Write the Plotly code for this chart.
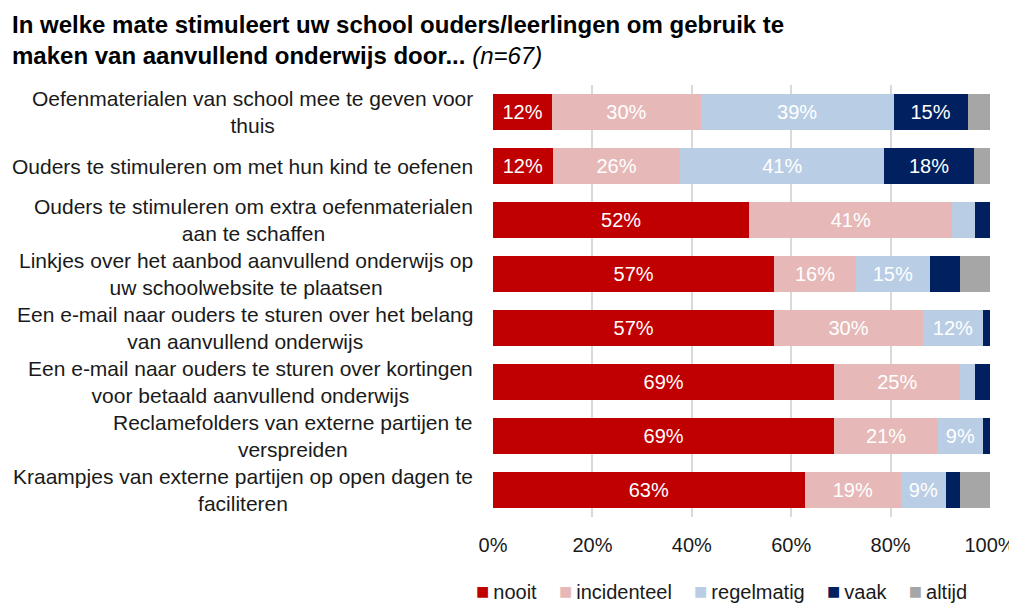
import plotly.graph_objects as go

categories = [
    "Oefenmaterialen van school mee te geven voor<br>thuis",
    "Ouders te stimuleren om met hun kind te oefenen",
    "Ouders te stimuleren om extra oefenmaterialen<br>aan te schaffen",
    "Linkjes over het aanbod aanvullend onderwijs op<br>uw schoolwebsite te plaatsen",
    "Een e-mail naar ouders te sturen over het belang<br>van aanvullend onderwijs",
    "Een e-mail naar ouders te sturen over kortingen<br>voor betaald aanvullend onderwijs",
    "Reclamefolders van externe partijen te<br>verspreiden",
    "Kraampjes van externe partijen op open dagen te<br>faciliteren",
]
series_names = ["nooit", "incidenteel", "regelmatig", "vaak", "altijd"]
nooit = [11.9, 12.0, 51.6, 56.6, 56.6, 68.7, 68.7, 62.7]
incidenteel = [29.9, 25.7, 40.8, 16.4, 29.9, 25.3, 20.8, 19.4]
regelmatig = [38.8, 41.0, 4.6, 14.9, 12.1, 3.0, 9.1, 9.0]
vaak = [14.9, 18.1, 3.0, 6.0, 1.4, 3.0, 1.4, 2.9]
altijd = [4.5, 3.2, 0.0, 6.1, 0.0, 0.0, 0.0, 6.0]
colors = ["#C00000", "#E6B9B8", "#B9CDE5", "#002060", "#A6A6A6"]
tick_vals = [0, 20, 40, 60, 80, 100]
tick_text = ["0%", "20%", "40%", "60%", "80%", "100%"]

FONT = "Liberation Sans, Arial, sans-serif"
OFF = 8  # page body margin
W, H = 1009, 600
ML, MR, MT, MB = 493 - OFF, 27, 85 - OFF, 91
PW, PH = W - ML - MR, H - MT - MB

fig = go.Figure()
for name, vals, col in zip(series_names, [nooit, incidenteel, regelmatig, vaak, altijd], colors):
    fig.add_trace(go.Bar(
        name=name, y=list(range(len(categories))), x=vals, orientation="h",
        marker=dict(color=col, line=dict(width=0)),
        text=[f"{round(v)}%" if v >= 8 else "" for v in vals],
        textposition="inside", insidetextanchor="middle",
        textfont=dict(color="white", size=20, family=FONT),
        hoverinfo="skip", showlegend=False,
    ))

for i, c in enumerate(categories):
    fig.add_annotation(x=-18 / PW, xref="paper", y=i, yref="y", text=c, showarrow=False,
                       xanchor="right", yanchor="middle", align="center",
                       font=dict(size=21, color="#1a1a1a", family=FONT))

fig.add_annotation(
    x=(10 - OFF - ML) / PW, xref="paper", y=1 + (MT - 1) / PH, yref="paper",
    xanchor="left", yanchor="top", align="left", showarrow=False,
    text="<b>In welke mate stimuleert uw school ouders/leerlingen om gebruik te<br>maken van aanvullend onderwijs door...</b> <i>(n=67)</i>",
    font=dict(size=24, color="#000000", family=FONT),
)

# legend built from series names and colours
gap = "\u00a0" * 4
legend_text = gap.join(
    f"<span style='color:{c};font-size:22px'>\u25a0</span>\u2009{n}" for n, c in zip(series_names, colors)
)
fig.add_annotation(
    x=(721 - OFF - ML) / PW, xref="paper", y=-(591 - OFF - (H - MB)) / PH, yref="paper",
    xanchor="center", yanchor="middle", showarrow=False, text=legend_text,
    font=dict(size=20, color="#1a1a1a", family=FONT),
)

fig.update_layout(
    template="none",
    barmode="stack", bargap=0.33,
    width=W, height=H,
    margin=dict(l=ML, r=MR, t=MT, b=MB, autoexpand=False),
    paper_bgcolor="white", plot_bgcolor="white",
    font=dict(family=FONT, size=20, color="#1a1a1a"),
    xaxis=dict(range=[0, 100], tickvals=tick_vals, ticktext=tick_text, automargin=False,
               showgrid=True, gridcolor="#D9D9D9", gridwidth=2, zeroline=False,
               showline=False, ticks="", tickfont=dict(size=20), ticklabelstandoff=14),
    yaxis=dict(range=[len(categories) - 0.5, -0.5], showticklabels=False, automargin=False,
               showgrid=False, zeroline=False, showline=False, ticks=""),
    showlegend=False,
)

fig.write_html("out.html")
